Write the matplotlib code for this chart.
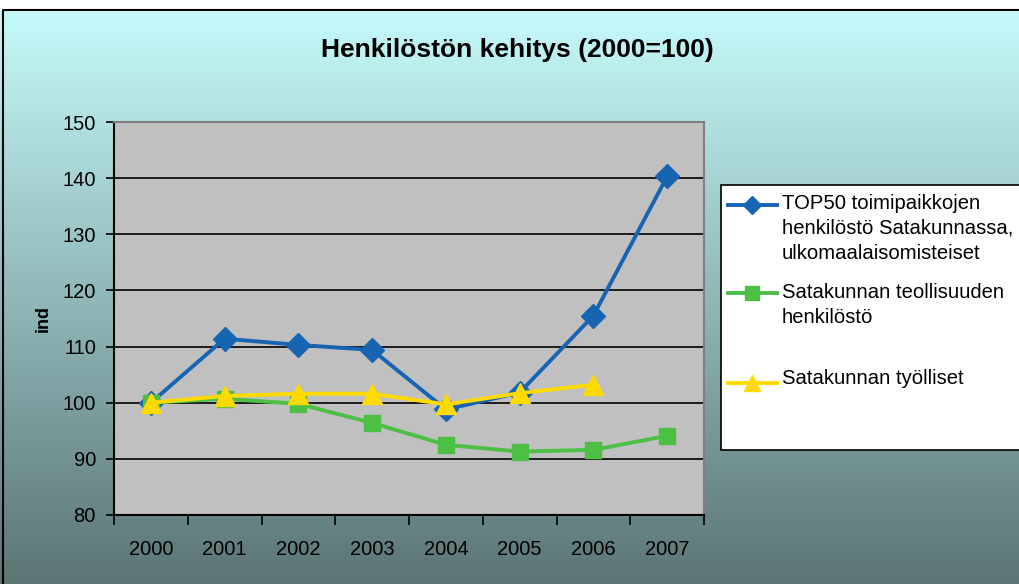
import numpy as np
import matplotlib.pyplot as plt
from matplotlib.lines import Line2D
from matplotlib.patches import Rectangle

plt.rcParams['font.family'] = ['Liberation Sans', 'DejaVu Sans']

years = ['2000', '2001', '2002', '2003', '2004', '2005', '2006', '2007']
top50 = [100, 111.4, 110.3, 109.4, 98.8, 101.8, 115.5, 140.3]
teollisuus = [100, 100.7, 99.8, 96.4, 92.5, 91.3, 91.6, 94.1]
tyolliset = [100, 101.2, 101.6, 101.6, 99.7, 101.7, 103.2]

labels = ['TOP50 toimipaikkojen\nhenkilöstö Satakunnassa,\nulkomaalaisomisteiset',
          'Satakunnan teollisuuden\nhenkilöstö',
          'Satakunnan työlliset']
colors = ['#1765B2', '#4DBF45', '#FFDA00']
markers = ['D', 's', '^']
msizes = [12, 12, 14]

W, H = 1019, 584
fig = plt.figure(figsize=(W / 100, H / 100), dpi=100)

# gradient background
bg = fig.add_axes([0, 0, 1, 1], zorder=-10)
top_c = np.array([198, 250, 250]) / 255
bot_c = np.array([92, 117, 117]) / 255
t = np.linspace(0, 1, 256)[:, None]
grad = top_c * (1 - t[..., None]) + bot_c * t[..., None]
grad = np.repeat(grad, 2, axis=1)
bg.imshow(grad, aspect='auto', extent=[0, W, 0, H - 10])
bg.set_xlim(0, W)
bg.set_ylim(0, H)
bg.add_patch(Rectangle((0, H - 10), W, 10, color='white'))
bg.plot([3, 3, W + 5], [-5, H - 10, H - 10], color='black', lw=1.5)
bg.axis('off')

# plot area
ax = fig.add_axes([114 / W, 1 - 515 / H, (704 - 114) / W, (515 - 122) / H])
ax.set_facecolor('#C0C0C0')
x = np.arange(len(years))
series = [top50, teollisuus, tyolliset]
for vals, c, m, ms in zip(series, colors, markers, msizes):
    ax.plot(x[:len(vals)], vals, color=c, lw=2.8, marker=m, markersize=ms,
            markeredgecolor=c, zorder=3)

ax.set_xlim(-0.5, len(years) - 0.5)
ax.set_ylim(80, 150)
ax.set_yticks(range(80, 151, 10))
ax.tick_params(axis='y', labelsize=14.5, length=6, width=1.2, direction='out', pad=7)
ax.set_xticks(x)
ax.set_xticklabels(years)
ax.tick_params(axis='x', which='major', labelsize=14.5, length=0, pad=18)
ax.set_xticks(np.arange(-0.5, len(years)), minor=True)
ax.tick_params(axis='x', which='minor', length=7, width=1.2, direction='out')
ax.grid(axis='y', color='black', lw=1.2)
ax.set_axisbelow(True)
for s in ['top', 'right']:
    ax.spines[s].set_color('#808080')
    ax.spines[s].set_linewidth(1.5)
for s in ['left', 'bottom']:
    ax.spines[s].set_color('black')
    ax.spines[s].set_linewidth(1.5)
ax.set_ylabel('ind', fontsize=13, fontweight='bold', labelpad=8)

fig.text(517 / W, 1 - 50 / H, 'Henkilöstön kehitys (2000=100)', ha='center', va='center',
         fontsize=19, fontweight='bold')

# legend box
bg.add_patch(Rectangle((721, H - 450), 320, 265, facecolor='white', edgecolor='black', lw=1.2, zorder=5))
marker_y = [205, 293, 383]
text_top = [194, 283, 369]
for lab, c, m, ms, my, ty in zip(labels, colors, markers, msizes, marker_y, text_top):
    bg.add_line(Line2D([728, 777], [H - my, H - my], color=c, lw=2.8, zorder=6))
    bg.add_line(Line2D([752], [H - my], marker=m, markersize=ms * 0.8, color=c, zorder=7))
    bg.text(782, H - ty, lab, fontsize=14.6, va='top', ha='left', zorder=7,
            linespacing=1.4)

fig.savefig('out.png', dpi=100)
